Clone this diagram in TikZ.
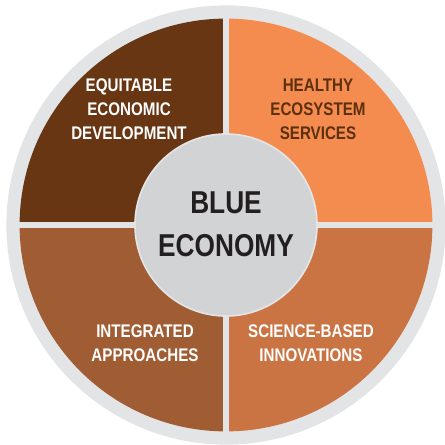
\documentclass[tikz,border=0pt]{standalone}
\usepackage{fontspec}
\setmainfont{Liberation Sans}
\newfontfamily\cnd[FakeStretch=0.83]{Liberation Sans}
\usetikzlibrary{positioning}

\definecolor{ringgray}{HTML}{E3E4E6}
\definecolor{coregray}{HTML}{D1D3D4}
\definecolor{darkbrown}{HTML}{683613}
\definecolor{lightorange}{HTML}{F58C4F}
\definecolor{midbrown}{HTML}{A05C33}
\definecolor{rust}{HTML}{C97442}
\definecolor{inktext}{HTML}{231F20}
\definecolor{labelbrown}{HTML}{5C300F}

\begin{document}
\begin{tikzpicture}[
  quad/.style={align=center, font=\cnd\bfseries\fontsize{13}{17}\selectfont, inner sep=0pt},
  corelabel/.style={align=center, font=\cnd\bfseries\fontsize{22.5}{30.6}\selectfont, text=inktext, inner sep=0pt},
  gapbar/.style={fill=ringgray}
]
  \useasboundingbox (-5.65,-5.5) rectangle (5.45,5.625);

  % outer ring
  \fill[ringgray] (0,0) circle (5.49);

  % four quadrants
  \fill[darkbrown] (0,0) -- (180:5.16) arc (180:90:5.16) -- cycle;
  \fill[lightorange] (0,0) -- (90:5.16) arc (90:0:5.16) -- cycle;
  \fill[rust] (0,0) -- (0:5.16) arc (0:-90:5.16) -- cycle;
  \fill[midbrown] (0,0) -- (-90:5.16) arc (-90:-180:5.16) -- cycle;

  % gaps between quadrants
  \fill[gapbar] (-5.3,-0.075) rectangle (5.3,0.075);
  \fill[gapbar] (-0.075,-5.3) rectangle (0.075,5.3);

  % centre disc
  \fill[coregray, draw=ringgray, line width=1.2pt] (0,0) circle (2.275);
  \node[corelabel] (core) at (0,0.02) {BLUE\\ECONOMY};

  % quadrant labels
  \node[quad, text=white] (equity) at (-2.425,2.89) {EQUITABLE\\ECONOMIC\\DEVELOPMENT};
  \node[quad, text=labelbrown] (health) at (2.3,2.89) {HEALTHY\\ECOSYSTEM\\SERVICES};
  \node[quad, text=white] (integr) at (-2.025,-2.95) {INTEGRATED\\APPROACHES};
  \node[quad, text=white] (science) at (2.125,-2.95) {SCIENCE-BASED\\INNOVATIONS};
\end{tikzpicture}
\end{document}
